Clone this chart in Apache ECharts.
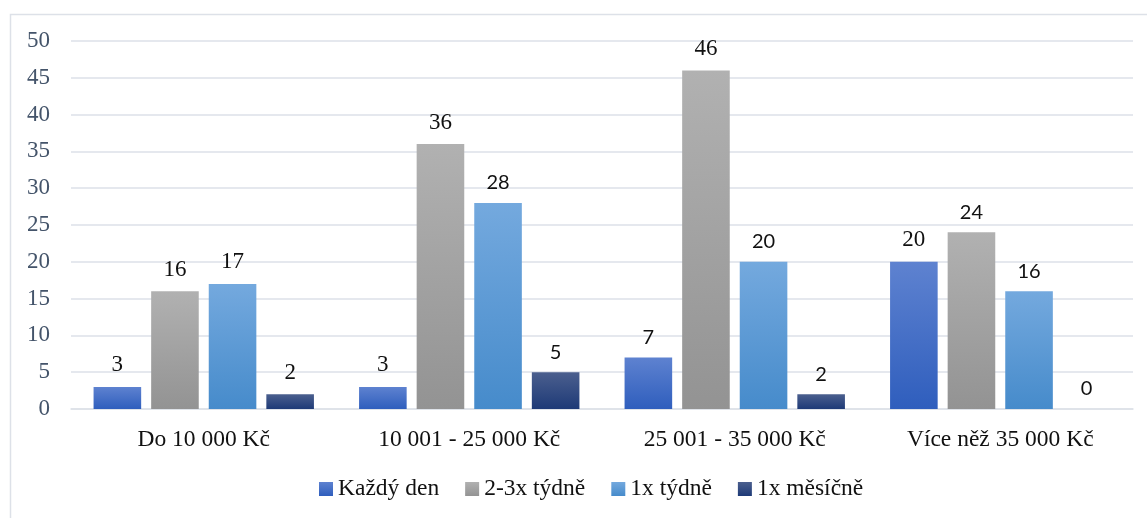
<!DOCTYPE html>
<html><head><meta charset="utf-8">
<script src="https://cdn.jsdelivr.net/npm/echarts@6/dist/echarts.min.js"></script>
<style>html,body{margin:0;padding:0;background:#fff}#c{width:1147px;height:518px}</style>
</head><body><div id="c"></div>
<script>
const categories = ['Do 10 000 Kč', '10 001 - 25 000 Kč', '25 001 - 35 000 Kč', 'Více něž 35 000 Kč'];
const seriesNames = ['Každý den', '2-3x týdně', '1x týdně', '1x měsíčně'];
const kazdyDen = [3, 3, 7, 20];
const dvaTriTydne = [16, 36, 46, 24];
const jednouTydne = [17, 28, 20, 16];
const jednouMesicne = [2, 5, 2, 0];
const yTicks = [0, 5, 10, 15, 20, 25, 30, 35, 40, 45, 50];
// which labels are drawn in serif in the reference (per series, per category)
const serifLabels = [[1,1,0,1],[1,1,1,0],[1,0,0,0],[1,0,0,0]];

const serif = '"Liberation Serif","Times New Roman",serif';
const sans = 'Lato,"Liberation Sans",sans-serif';
const grads = [
  ['#5e82d0', '#2f5ebd'],
  ['#b1b1b1', '#939393'],
  ['#74a9de', '#468bcb'],
  ['#4b5f8e', '#1e3a77']
];
function grad(c){return new echarts.graphic.LinearGradient(0,0,0,1,[{offset:0,color:c[0]},{offset:1,color:c[1]}]);}
const allData = [kazdyDen, dvaTriTydne, jednouTydne, jednouMesicne];
const series = allData.map((arr, si) => ({
  name: seriesNames[si],
  type: 'bar',
  barGap: '21%',
  barCategoryGap: '17%',
  itemStyle: {color: grad(grads[si])},
  data: arr.map((v, ci) => ({
    value: v,
    label: serifLabels[si][ci] ? {fontFamily: serif, fontSize: 23} : {fontFamily: sans, fontSize: 20}
  })),
  label: {show: true, position: 'top', distance: 10, color: '#111', fontSize: 20}
}));

const chart = echarts.init(document.getElementById('c'));
chart.setOption({
  animation: false,
  graphic: [{type: 'rect', left: 8, top: 12, shape: {width: 1160, height: 530}, style: {fill: 'none', stroke: '#dde1e8', lineWidth: 1.5}}],
  legend: {
    bottom: 12, left: 314, itemWidth: 14, itemHeight: 14, itemGap: 26,
    icon: 'rect',
    textStyle: {fontFamily: serif, fontSize: 23.5, color: '#111'},
    data: seriesNames
  },
  grid: {left: 71, right: 14, top: 41, bottom: 109},
  xAxis: {
    type: 'category', data: categories,
    axisLine: {lineStyle: {color: '#dde1e8', width: 1.5}},
    axisTick: {show: false},
    axisLabel: {fontFamily: serif, fontSize: 23.5, color: '#111', margin: 19}
  },
  yAxis: {
    type: 'value', min: yTicks[0], max: yTicks[yTicks.length-1], interval: 5,
    axisLine: {show: false}, axisTick: {show: false},
    splitLine: {lineStyle: {color: '#dde1e8', width: 1.5}},
    axisLabel: {fontFamily: serif, fontSize: 23, color: '#44546a', margin: 21}
  },
  series: series
});
</script></body></html>
